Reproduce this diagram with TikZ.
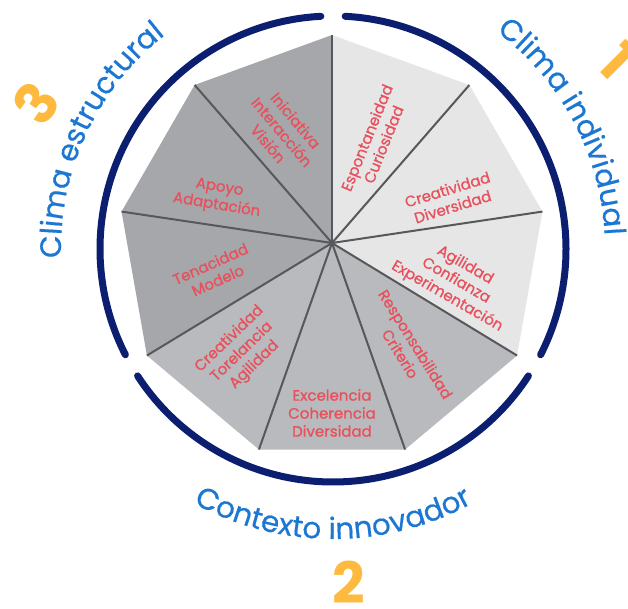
\documentclass[tikz,border=0pt]{standalone}
\usepackage{fontspec}
\setmainfont{Poppins}
\newfontfamily\lblfont{Poppins}[FakeBold=0.9]
\newfontfamily\ttlfont{Poppins}[FakeBold=0.5]
\usetikzlibrary{decorations.text}
\definecolor{navy}{RGB}{11,30,111}
\definecolor{cblue}{RGB}{28,119,210}
\definecolor{corange}{RGB}{253,186,62}
\definecolor{cred}{RGB}{232,80,92}
\definecolor{glight}{RGB}{230,230,231}
\definecolor{gmid}{RGB}{185,186,189}
\definecolor{gdark}{RGB}{166,167,170}
\definecolor{spokegray}{RGB}{87,88,90}
\newcommand\curvefont{\ttlfont\fontsize{29.5}{34}\selectfont}
\begin{document}
\begin{tikzpicture}[x=1pt,y=1pt,
  lbl/.style={text=cred, align=center, font=\lblfont\fontsize{15}{18}\selectfont, inner sep=0pt},
  spoke/.style={draw=spokegray, line width=2pt},
  ring/.style={draw=navy, line width=7pt, line cap=round},
  num/.style={text=corange, font=\fontsize{57}{60}\selectfont\bfseries, inner sep=0pt}]
\useasboundingbox (0,0) rectangle (628,609);
\coordinate (P) at (332,360.3);
\coordinate (H) at (332,366);
\coordinate (C) at (333,360);
\foreach \i/\a in {0/90,1/50,2/10,3/-30,4/-70,5/-110,6/-150,7/170,8/130}
  \path (P) ++(\a:213.7pt) coordinate (v\i);
% sectors
\fill[glight] (H) -- (v0) -- (v1) -- cycle;
\fill[glight] (H) -- (v1) -- (v2) -- cycle;
\fill[glight] (H) -- (v2) -- (v3) -- cycle;
\fill[gmid] (H) -- (v3) -- (v4) -- cycle;
\fill[gmid] (H) -- (v4) -- (v5) -- cycle;
\fill[gmid] (H) -- (v5) -- (v6) -- cycle;
\fill[gdark] (H) -- (v6) -- (v7) -- cycle;
\fill[gdark] (H) -- (v7) -- (v8) -- cycle;
\fill[gdark] (H) -- (v8) -- (v0) -- cycle;
\foreach \i in {0,...,8} \draw[spoke] (H) -- (v\i);
% ring
\draw[ring, shift={(333,360)}] (93:233pt) arc (93:207:233pt);
\draw[ring, shift={(333,360)}] (213:233pt) arc (213:327:233pt);
\draw[ring, shift={(333,360)}] (333:233pt) arc (333:447:233pt);
% labels
\node[lbl, rotate=68] (esp) at (375,468) {Espontaneidad\\Curiosidad};
\node[lbl, rotate=17] (crd) at (450,411) {Creatividad\\Diversidad};
\node[lbl, rotate=-30] (agi) at (456,328) {Agilidad\\Confianza\\Experimentación};
\node[lbl, rotate=-58] (res) at (408,260) {Responsabilidad\\Criterio};
\node[lbl] (exc) at (332,196) {Excelencia\\Coherencia\\Diversidad};
\node[lbl, rotate=44] (cta) at (242,257) {Creatividad\\Torelancia\\Agilidad};
\node[lbl, rotate=24] (ten) at (214,337) {Tenacidad\\Modelo};
\node[lbl, rotate=-9.5] (apo) at (218,412) {Apoyo\\Adaptación};
\node[lbl, rotate=-50] (ini) at (282,477) {Iniciativa\\Interacción\\Visión};
% curved titles
\path[shift={(333,360)}, decorate, decoration={text along path, text={|\curvefont|Clima individual}, text align=center, text color=cblue}] (57:272pt) arc (57:-1:272pt);
\path[shift={(333,360)}, decorate, decoration={text along path, text={|\curvefont|Clima estructural}, text align=center, text color=cblue}] (183:272pt) arc (183:127:272pt);
\path[shift={(333,360)}, decorate, decoration={text along path, text={|\curvefont|Contexto innovador}, text align=center, text color=cblue}] (-121:290pt) arc (-121:-59:290pt);
% numbers
\node[num, rotate=-45] (n1) at (618,549) {1};
\node[num] (n2) at (349,27) {2};
\node[num, rotate=55] (n3) at (36,506) {3};
\end{tikzpicture}
\end{document}
